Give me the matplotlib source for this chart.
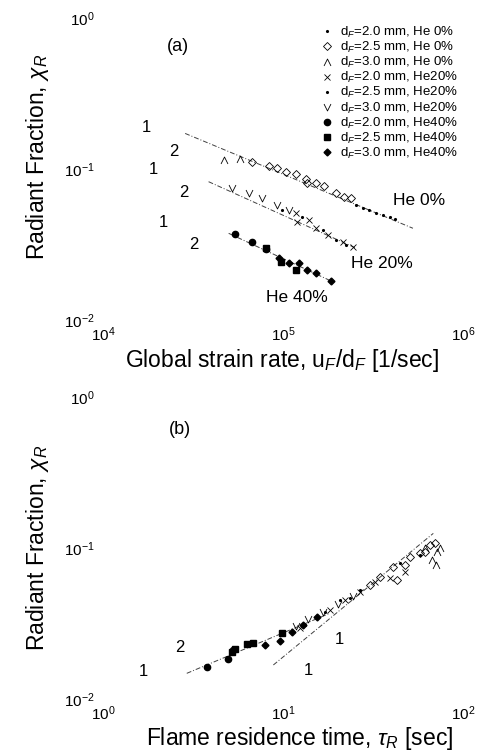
import matplotlib
matplotlib.use("Agg")
import matplotlib.pyplot as plt
from matplotlib.path import Path
from matplotlib.ticker import LogLocator, NullLocator

plt.rcParams['font.family'] = ['Liberation Sans', 'DejaVu Sans']
plt.rcParams['mathtext.fontset'] = 'custom'
plt.rcParams['mathtext.rm'] = 'Liberation Sans'
plt.rcParams['mathtext.it'] = 'Liberation Sans:italic'
plt.rcParams['mathtext.bf'] = 'Liberation Sans:bold'

# ---------------- data : panel (a) global strain rate vs radiant fraction
a_he0_d20_x = [254700, 277300, 302200, 329400, 358700, 391000, 417000]
a_he0_d20_y = [0.0578, 0.0549, 0.0535, 0.0508, 0.0496, 0.0478, 0.0464]
a_he0_d25_x = [67400, 83500, 92900, 103500, 117700, 133900, 136700, 152300, 169500, 197000, 219200, 238900]
a_he0_d25_y = [0.1117, 0.1047, 0.1011, 0.0960, 0.0922, 0.0855, 0.0804, 0.0812, 0.0772, 0.0690, 0.0656, 0.0640]
a_he0_d30_x = [46800, 58000]
a_he0_d30_y = [0.114, 0.116]
a_he20_d20_x = [117800, 120200, 139700, 152300, 177000, 214400, 243800]
a_he20_d20_y = [0.0509, 0.0448, 0.0460, 0.0405, 0.0365, 0.0330, 0.0306]
a_he20_d25_x = [99100, 128200, 166000, 196900, 223900]
a_he20_d25_y = [0.0535, 0.0479, 0.0394, 0.0339, 0.0314]
a_he20_d30_x = [52100, 64600, 76600, 92900, 108100]
a_he20_d30_y = [0.0745, 0.0690, 0.0639, 0.0578, 0.0535]
a_he40_d20_x = [54400, 67300, 80000]
a_he40_d20_y = [0.0370, 0.0329, 0.0294]
a_he40_d25_x = [80000, 97100, 117800]
a_he40_d25_y = [0.0299, 0.0243, 0.0214]
a_he40_d30_x = [95100, 108100, 122800, 136800, 152400, 184600]
a_he40_d30_y = [0.0256, 0.0237, 0.0237, 0.0214, 0.0206, 0.0181]

fit_a_he0_x = [28600, 527000]
fit_a_he0_y = [0.172, 0.0405]
fit_a_he20_x = [38600, 254700]
fit_a_he20_y = [0.0824, 0.0299]
fit_a_he40_x = [49900, 188400]
fit_a_he40_y = [0.0375, 0.01794]

# ---------------- data : panel (b) flame residence time vs radiant fraction
b_he0_d20_x = [20.73, 26.78, 44.67, 57.70]
b_he0_d20_y = [0.0452, 0.0527, 0.0796, 0.0899]
b_he0_d25_x = [30.43, 34.58, 40.83, 42.99, 47.62, 50.77, 57.70, 61.50, 65.55, 69.87]
b_he0_d25_y = [0.0569, 0.0643, 0.0748, 0.0614, 0.0772, 0.0872, 0.0927, 0.0941, 0.1047, 0.1079]
b_he0_d30_x = [61.50, 67.25, 70.79, 71.70, 74.50]
b_he0_d30_y = [0.100, 0.0833, 0.0772, 0.0941, 0.100]
b_he20_d20_x = [12.43, 18.24, 22.10, 26.78, 32.44, 39.30, 47.62]
b_he20_d20_y = [0.0295, 0.0388, 0.0452, 0.0511, 0.0595, 0.0633, 0.0694]
b_he20_d25_x = [13.25, 17.11, 23.57]
b_he20_d25_y = [0.0309, 0.0377, 0.0467]
b_he20_d30_x = [11.81, 13.77, 16.68, 20.21, 24.48]
b_he20_d30_y = [0.0304, 0.0339, 0.0377, 0.0426, 0.0481]
b_he40_d20_x = [3.77, 4.97, 5.29]
b_he40_d20_y = [0.01637, 0.01841, 0.0211]
b_he40_d25_x = [5.19, 5.41, 6.28, 6.79, 9.84]
b_he40_d25_y = [0.0206, 0.0213, 0.0231, 0.0234, 0.0275]
b_he40_d30_x = [7.94, 9.62, 11.17, 12.97, 15.38]
b_he40_d30_y = [0.0228, 0.0243, 0.0279, 0.0309, 0.0351]

fit_b_half_x = [2.92, 18.24]
fit_b_half_y = [0.01479, 0.0370]
fit_b_one_x = [8.84, 68.4]
fit_b_one_y = [0.0168, 0.125]

legend_labels = [
    r"d$_F$=2.0 mm, He 0%", r"d$_F$=2.5 mm, He 0%", r"d$_F$=3.0 mm, He 0%",
    r"d$_F$=2.0 mm, He20%", r"d$_F$=2.5 mm, He20%", r"d$_F$=3.0 mm, He20%",
    r"d$_F$=2.0 mm, He40%", r"d$_F$=2.5 mm, He40%", r"d$_F$=3.0 mm, He40%",
]

slope_a = [(17400, 0.187, '1'), (24600, 0.1297, '2'), (19000, 0.0985, '1'),
           (28000, 0.0704, '2'), (21600, 0.0439, '1'), (31800, 0.0314, '2')]
slope_b = [(2.68, 0.0218, '2'), (1.67, 0.0151, '1'), (20.7, 0.0246, '1'), (13.77, 0.01556, '1')]
he_labels = [(406000, 0.0623, 'He 0%'), (240000, 0.0237, 'He 20%'), (80300, 0.0140, 'He 40%')]

# ---------------- styles
caret_up = Path([(-1, -1), (0, 1), (1, -1)], [Path.MOVETO, Path.LINETO, Path.LINETO])
caret_dn = Path([(-1, 1), (0, -1), (1, 1)], [Path.MOVETO, Path.LINETO, Path.LINETO])
styles = [
    dict(marker='.', ms=2.5, mfc='k', mec='k'),
    dict(marker='D', ms=4.5, mfc='none', mec='k', mew=0.6),
    dict(marker=caret_up, ms=5, mfc='none', mec='k', mew=0.6),
    dict(marker='x', ms=5, mfc='none', mec='k', mew=0.6),
    dict(marker='.', ms=2.5, mfc='k', mec='k'),
    dict(marker=caret_dn, ms=5, mfc='none', mec='k', mew=0.6),
    dict(marker='o', ms=4.5, mfc='k', mec='k'),
    dict(marker='s', ms=4.5, mfc='k', mec='k'),
    dict(marker='D', ms=3.5, mfc='k', mec='k'),
]
fit_style = dict(color='0.25', lw=0.7, ls=(0, (5, 2, 1, 2)))

W, H = 484, 753
fig = plt.figure(figsize=(W / 100, H / 100), dpi=100)

def rect(l, r, t, b):
    return [l / W, 1 - b / H, (r - l) / W, (b - t) / H]

axa = fig.add_axes(rect(103, 463, 18, 320))
axb = fig.add_axes(rect(103, 463, 397, 699))

for ax in (axa, axb):
    ax.set_xscale('log')
    ax.set_yscale('log')
    for s in ax.spines.values():
        s.set_visible(False)
    ax.xaxis.set_major_locator(LogLocator(base=10, numticks=5))
    ax.yaxis.set_major_locator(LogLocator(base=10, numticks=5))
    ax.xaxis.set_minor_locator(NullLocator())
    ax.yaxis.set_minor_locator(NullLocator())
    ax.tick_params(length=0, labelsize=11)
    ax.tick_params(axis='y', pad=6)
    ax.tick_params(axis='x', pad=4)

axa.set_xlim(1e4, 1e6)
axa.set_ylim(1e-2, 1e0)
axb.set_xlim(1e0, 1e2)
axb.set_ylim(1e-2, 1e0)

# panel (a)
a_series = [
    (a_he0_d20_x, a_he0_d20_y), (a_he0_d25_x, a_he0_d25_y), (a_he0_d30_x, a_he0_d30_y),
    (a_he20_d20_x, a_he20_d20_y), (a_he20_d25_x, a_he20_d25_y), (a_he20_d30_x, a_he20_d30_y),
    (a_he40_d20_x, a_he40_d20_y), (a_he40_d25_x, a_he40_d25_y), (a_he40_d30_x, a_he40_d30_y),
]
for fx, fy in [(fit_a_he0_x, fit_a_he0_y), (fit_a_he20_x, fit_a_he20_y), (fit_a_he40_x, fit_a_he40_y)]:
    axa.plot(fx, fy, **fit_style)
handles = []
for (x, y), st, lab in zip(a_series, styles, legend_labels):
    h, = axa.plot(x, y, ls='none', label=lab, **st)
    handles.append(h)

axa.legend(handles=handles, loc='upper right', bbox_to_anchor=(0.985, 0.977),
           frameon=False, fontsize=9.5, handlelength=0.8, handletextpad=0.6,
           labelspacing=0.0, borderpad=0, borderaxespad=0)

for x, y, t in slope_a:
    axa.text(x, y, t, fontsize=12, ha='center', va='center')
for x, y, t in he_labels:
    axa.text(x, y, t, fontsize=12.5, ha='left', va='center')
axa.text(0.208, 0.904, '(a)', transform=axa.transAxes, fontsize=13, ha='center', va='center')

# panel (b)
b_series = [
    (b_he0_d20_x, b_he0_d20_y), (b_he0_d25_x, b_he0_d25_y), (b_he0_d30_x, b_he0_d30_y),
    (b_he20_d20_x, b_he20_d20_y), (b_he20_d25_x, b_he20_d25_y), (b_he20_d30_x, b_he20_d30_y),
    (b_he40_d20_x, b_he40_d20_y), (b_he40_d25_x, b_he40_d25_y), (b_he40_d30_x, b_he40_d30_y),
]
axb.plot(fit_b_half_x, fit_b_half_y, **fit_style)
axb.plot(fit_b_one_x, fit_b_one_y, **fit_style)
for (x, y), st in zip(b_series, styles):
    axb.plot(x, y, ls='none', **st)
for x, y, t in slope_b:
    axb.text(x, y, t, fontsize=12, ha='center', va='center')
axb.text(0.214, 0.891, '(b)', transform=axb.transAxes, fontsize=13, ha='center', va='center')

# axis labels
fig.text(282 / W, 1 - 361 / H, r"Global strain rate, u$_F$/d$_F$ [1/sec]", fontsize=16.5, ha='center', va='center')
fig.text(300 / W, 1 - 738 / H, r"Flame residence time, $\tau_R$ [sec]", fontsize=16.5, ha='center', va='center')
fig.text(38 / W, 1 - 157 / H, r"Radiant Fraction, $\chi_R$", fontsize=16.5, rotation=90, ha='center', va='center')
fig.text(38 / W, 1 - 548 / H, r"Radiant Fraction, $\chi_R$", fontsize=16.5, rotation=90, ha='center', va='center')

fig.savefig('out.png', dpi=100)
